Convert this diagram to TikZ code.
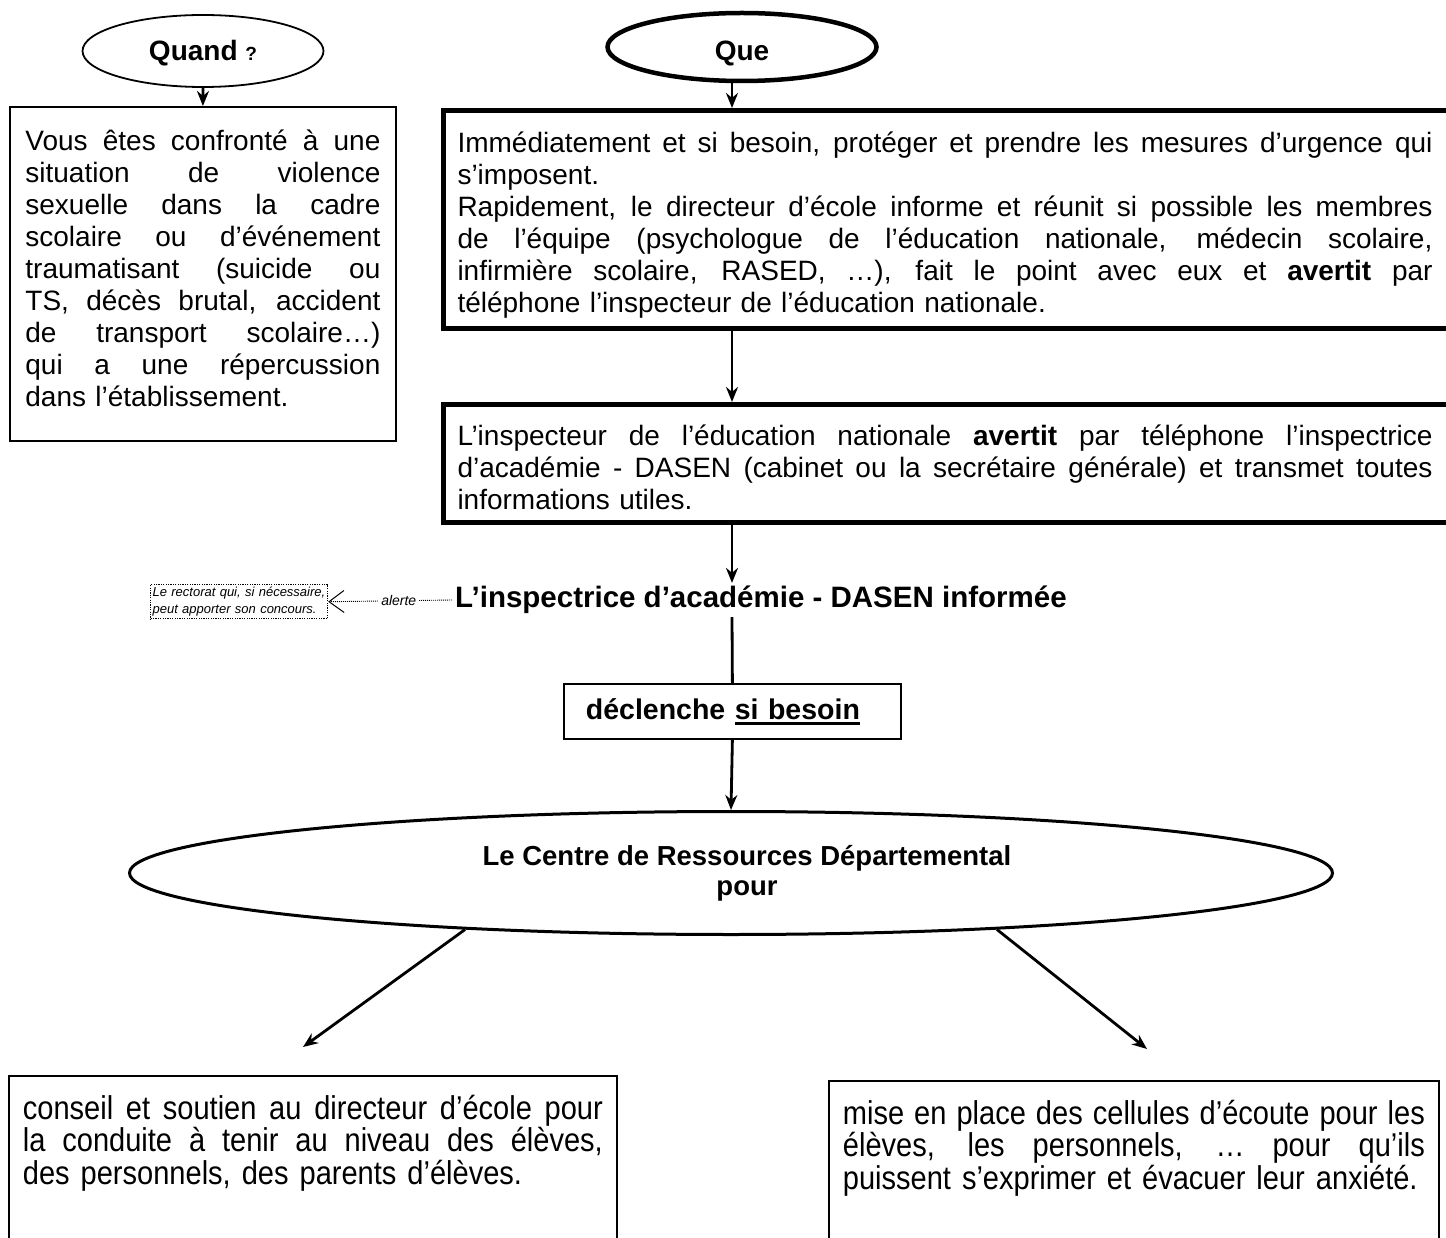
\documentclass[tikz,border=0pt]{standalone}
\usepackage{fontspec}
\setmainfont{Liberation Sans}
\newfontfamily\narrowfont{Liberation Sans}[FakeStretch=0.88]
\usetikzlibrary{shapes.geometric,arrows.meta}
\setlength{\parindent}{0pt}
\newcommand\jl[2][\hsize]{\par\hbox to #1{\spaceskip=.278em plus 1fil minus .05em\xspaceskip=\spaceskip\relax #2}}
\newcommand\myul[1]{\setbox0\hbox{#1}\rlap{\rule[-5.5pt]{\wd0}{2.6pt}}\box0}
\begin{document}
\begin{tikzpicture}[x=1pt,y=-1pt,
  bodyfont/.style={font=\fontsize{28}{32}\selectfont},
  thinbox/.style={draw, line width=1.8pt, rectangle, anchor=north west},
  thickbox/.style={draw, line width=5pt, rectangle, anchor=north west, inner xsep=14pt, inner ysep=10pt, text width=1040pt, bodyfont},
  bottombox/.style={draw, line width=1.8pt, rectangle, anchor=north west, inner xsep=14pt, inner ysep=11pt, text width=580pt, font=\narrowfont\fontsize{33}{32.5}\selectfont},
  arr/.style={line width=2.8pt, -{Stealth[length=15pt,width=12pt]}},
  headfont/.style={font=\bfseries\fontsize{28}{32}\selectfont}
]
\useasboundingbox (0,0) rectangle (1446,1238);
\clip (0,0) rectangle (1446,1238);
\fill[white] (0,0) rectangle (1446,1238);

% headings
\node[ellipse, draw, line width=1.8pt, minimum width=241pt, minimum height=72pt, inner sep=0pt, text height=24pt, headfont] (quand) at (203,51) {Quand {\fontsize{19}{20}\selectfont ?}};
\node[ellipse, draw, line width=4.5pt, minimum width=269pt, minimum height=68pt, inner sep=0pt, text height=33pt, headfont] (que) at (742,47) {Que};

% left box
\node[thinbox, inner xsep=15.5pt, inner ysep=12pt, text width=355pt, bodyfont] (quandbox) at (9,106) {%
\jl{Vous êtes confronté à une}
\jl{situation de violence}
\jl{sexuelle dans la cadre}
\jl{scolaire ou d’événement}
\jl{traumatisant (suicide ou}
\jl{TS, décès brutal, accident}
\jl{de transport scolaire…)}
\jl{qui a une répercussion}
\par dans l’établissement.\par\kern22pt};

% box 1
\node[thickbox] (act) at (441,108) {%
\jl[975pt]{Immédiatement et si besoin, protéger et prendre les mesures d’urgence qui}
\par s’imposent.
\jl[975pt]{Rapidement, le directeur d’école informe et réunit si possible les membres}
\jl[975pt]{de l’équipe (psychologue de l’éducation nationale, médecin scolaire,}
\jl[975pt]{infirmière scolaire, RASED, …), fait le point avec eux et \textbf{avertit} par}
\par téléphone l’inspecteur de l'éducation nationale.\par};

% box 2
\node[thickbox, inner ysep=9pt] (ins) at (441,402) {%
\jl[975pt]{L’inspecteur de l'éducation nationale \textbf{avertit} par téléphone l’inspectrice}
\jl[975pt]{d’académie - DASEN (cabinet ou la secrétaire générale) et transmet toutes}
\par informations utiles.\par\kern4pt};

% inspectrice informee
\node[anchor=west, inner sep=3pt, font=\bfseries\fontsize{29.5}{32}\selectfont] (insp) at (452,600) {L’inspectrice d’académie - DASEN informée};

% rectorat dotted box
\node[draw, line width=1.2pt, dash pattern=on 1.2pt off 1.2pt, anchor=north west, inner xsep=2pt, inner ysep=2.5pt, text width=173pt, font=\itshape\fontsize{13}{17}\selectfont] (rect) at (150,584) {Le rectorat qui, si nécessaire,\\peut apporter son concours.};

% declenche
\node[thinbox, minimum width=337pt, minimum height=55pt, text width=293pt, inner xsep=22pt, font=\bfseries\fontsize{28.5}{32}\selectfont] (decl) at (563,683) {déclenche \myul{si besoin}};

% big ellipse
\node[ellipse, draw, line width=3pt, minimum width=1203pt, minimum height=123pt, inner sep=0pt, align=center, font=\bfseries\fontsize{27.5}{30}\selectfont] (crd) at (731,873) {\hspace*{32pt}Le Centre de Ressources Départemental\\\hspace*{32pt}pour};

% bottom boxes
\node[bottombox] (conseil) at (8,1075) {%
\jl{conseil et soutien au directeur d’école pour}
\jl{la conduite à tenir au niveau des élèves,}
\par des personnels, des parents d’élèves.\par\kern200pt};
\node[bottombox, text width=582pt] (cellule) at (828,1080) {%
\jl{mise en place des cellules d’écoute pour les}
\jl{élèves, les personnels, … pour qu’ils}
\par puissent s’exprimer et évacuer leur anxiété.\par\kern200pt};

% connectors
\coordinate (ax) at (732,0);
\coordinate (lt) at (303,1047);
\coordinate (rt) at (1147,1049);
\draw[arr] (quand.south) -- (quandbox.north);
\draw[arr] (que.south -| ax) -- (act.north -| ax);
\draw[arr] (act.south -| ax) -- (ins.north -| ax);
\draw[arr] (ins.south -| ax) -- (insp.north -| ax);
\draw[line width=2.8pt] (insp.south -| ax) -- (decl.north);
\draw[arr] (decl.south) -- (crd.north);
\draw[arr] (crd.192) -- (lt);
\draw[arr] (crd.348) -- (rt);
\draw[line width=0.9pt, dash pattern=on 1pt off 1pt, -{Straight Barb[length=15pt,width=22pt,line width=1pt]}] (insp.west) -- node[pos=0.43, fill=white, inner xsep=3pt, inner ysep=1pt, font=\itshape\fontsize{14}{16}\selectfont] (alerte) {alerte} (rect.east);
\end{tikzpicture}
\end{document}
